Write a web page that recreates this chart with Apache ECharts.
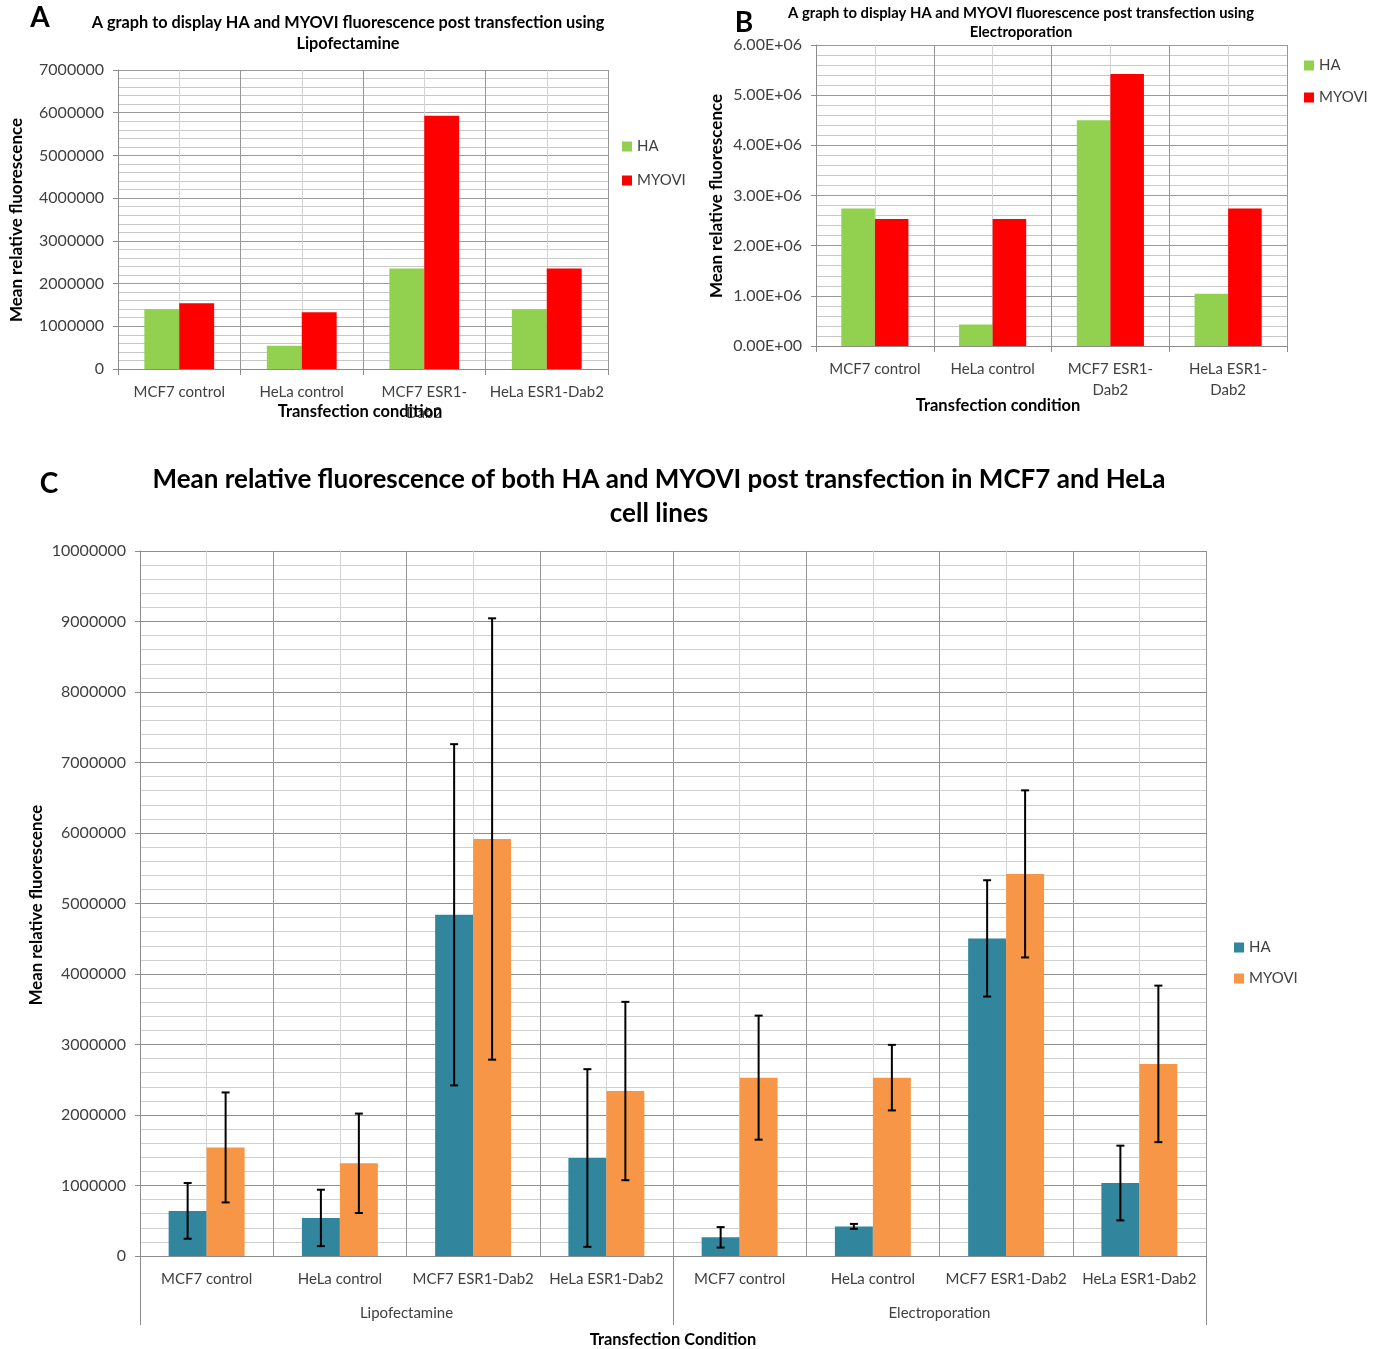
<!DOCTYPE html>
<html><head><meta charset="utf-8">
<script src="https://cdn.jsdelivr.net/npm/echarts@6/dist/echarts.min.js"></script>
<style>html,body{margin:0;padding:0;background:#fff}#c{width:1384px;height:1349px}</style>
</head><body><div id="c"></div>
<script>
// ---- Panel A (Lipofectamine) ----
const catsA = ['MCF7 control', 'HeLa control', 'MCF7 ESR1-\nDab2', 'HeLa ESR1-Dab2'];
const haA = [1400000, 545000, 2350000, 1400000];
const myoviA = [1540000, 1330000, 5930000, 2350000];
const yMaxA = 7000000;

// ---- Panel B (Electroporation) ----
const catsB = ['MCF7 control', 'HeLa control', 'MCF7 ESR1-\nDab2', 'HeLa ESR1-\nDab2'];
const haB = [2740000, 430000, 4500000, 1040000];
const myoviB = [2530000, 2530000, 5420000, 2740000];
const yMaxB = 6000000;

// ---- Panel C (both methods, with error bars) ----
const catsC = ['MCF7 control', 'HeLa control', 'MCF7 ESR1-Dab2', 'HeLa ESR1-Dab2',
               'MCF7 control', 'HeLa control', 'MCF7 ESR1-Dab2', 'HeLa ESR1-Dab2'];
const groupsC = ['Lipofectamine', 'Electroporation'];
const haC = [640000, 540000, 4840000, 1390000, 265000, 420000, 4505000, 1035000];
const haErrC = [395000, 400000, 2420000, 1260000, 145000, 35000, 825000, 530000];
const myoviC = [1540000, 1315000, 5915000, 2340000, 2530000, 2530000, 5420000, 2725000];
const myoviErrC = [780000, 705000, 3130000, 1265000, 880000, 465000, 1185000, 1110000];
const yMaxC = 10000000;

const FONT = 'Lato, "Open Sans", sans-serif';
const LBL = '#404040';
const GAP = 0.43;

function sci(v) {
  const p = v.toExponential(2).split('e');
  const s = p[1][0] === '-' ? '-' : '+';
  const d = p[1].replace(/[+-]/, '').padStart(2, '0');
  return p[0] + 'E' + s + d;
}
function plain(v) { return String(v); }

function centerAxis(g, n) {
  return { gridIndex: g, type: 'value', position: 'top', min: 0, max: 2 * n, interval: 1,
    axisLine: { show: false }, axisTick: { show: false }, axisLabel: { show: false },
    splitLine: { show: true, lineStyle: { color: '#d2d2d2', width: 1 } } };
}
function catAxis(g, data, tick, fs) {
  return { gridIndex: g, type: 'category', position: 'bottom', data: data,
    axisLine: { show: true, lineStyle: { color: '#8c8c8c' } },
    axisTick: { show: tick, length: 6, interval: 0, lineStyle: { color: '#8c8c8c' } },
    axisLabel: { interval: 0, margin: 13, fontSize: fs, lineHeight: 21, color: LBL, fontFamily: FONT },
    splitLine: { show: true, interval: 0, lineStyle: { color: '#969696' } } };
}
function valAxis(g, max, fs, fmt, minorColor, majorColor) {
  return { gridIndex: g, type: 'value', min: 0, max: max, interval: 1000000,
    axisLine: { show: true, lineStyle: { color: '#8c8c8c' } },
    axisTick: { show: true, length: 5, lineStyle: { color: '#8c8c8c' } },
    axisLabel: { margin: 14, fontSize: fs, color: LBL, fontFamily: FONT, formatter: fmt },
    splitLine: { show: true, lineStyle: { color: majorColor } },
    minorTick: { show: false, splitNumber: 5 },
    minorSplitLine: { show: true, lineStyle: { color: minorColor } } };
}

function errRender(sign) {
  return function (params, api) {
    const i = api.value(0), v = api.value(1), e = api.value(2);
    const band = api.size([1, 0])[0];
    const bw = band * (1 - GAP) / 2;
    const x = api.coord([i, v])[0] + sign * bw / 2;
    const yt = api.coord([i, v + e])[1];
    const yb = api.coord([i, v - e])[1];
    const st = { stroke: '#000', lineWidth: 2 };
    const c = 4;
    return { type: 'group', children: [
      { type: 'line', shape: { x1: x, y1: yt, x2: x, y2: yb }, style: st },
      { type: 'line', shape: { x1: x - c, y1: yt, x2: x + c, y2: yt }, style: st },
      { type: 'line', shape: { x1: x - c, y1: yb, x2: x + c, y2: yb }, style: st }
    ] };
  };
}

function txt(x, y, text, size, weight, rot, color) {
  return { type: 'text', x: x, y: y, rotation: rot || 0, z: 100,
    style: { text: text, fill: color || '#000', fontSize: size, fontWeight: weight, fontFamily: FONT,
      textAlign: 'center', textVerticalAlign: 'middle', align: 'center', verticalAlign: 'middle' } };
}

const legendText = { fontSize: 15, color: LBL, fontFamily: FONT };
function legend(left, top, gap, c1, c2) {
  return { left: left, top: top, orient: 'vertical', icon: 'rect', itemWidth: 10, itemHeight: 10,
    itemGap: gap, selectedMode: false, textStyle: legendText, padding: 0,
    data: [{ name: 'HA', itemStyle: { color: c1 } }, { name: 'MYOVI', itemStyle: { color: c2 } }] };
}

const option = {
  backgroundColor: '#fff',
  animation: false,
  grid: [
    { left: 118, top: 70, width: 490, height: 299 },
    { left: 816, top: 45, width: 471, height: 301 },
    { left: 140, top: 551, width: 1066, height: 705 }
  ],
  xAxis: [
    centerAxis(0, 4),
    catAxis(0, catsA, true, 15),
    centerAxis(1, 4),
    catAxis(1, catsB, true, 15),
    centerAxis(2, 8),
    catAxis(2, catsC, false, 15),
    { gridIndex: 2, type: 'category', position: 'bottom', data: groupsC,
      axisLine: { show: false },
      axisTick: { show: true, length: 69, interval: 0, lineStyle: { color: '#8c8c8c' } },
      axisLabel: { interval: 0, margin: 47, fontSize: 15, lineHeight: 20, color: LBL, fontFamily: FONT },
      splitLine: { show: false } }
  ],
  yAxis: [
    valAxis(0, yMaxA, 16, plain, '#c8c8c8', '#9a9a9a'),
    valAxis(1, yMaxB, 16, sci, '#c8c8c8', '#9a9a9a'),
    valAxis(2, yMaxC, 16, plain, '#d0d0d0', '#8e8e8e')
  ],
  legend: [
    legend(622, 139, 19, '#92D050', '#FF0000'),
    legend(1304, 58, 17, '#92D050', '#FF0000'),
    legend(1234, 940, 16, '#31859C', '#F79646')
  ],
  series: [
    { name: 'HA', type: 'bar', xAxisIndex: 1, yAxisIndex: 0, data: haA, barGap: '0%', barCategoryGap: '43%', itemStyle: { color: '#92D050' } },
    { name: 'MYOVI', type: 'bar', xAxisIndex: 1, yAxisIndex: 0, data: myoviA, barGap: '0%', barCategoryGap: '43%', itemStyle: { color: '#FF0000' } },
    { name: 'HA', type: 'bar', xAxisIndex: 3, yAxisIndex: 1, data: haB, barGap: '0%', barCategoryGap: '43%', itemStyle: { color: '#92D050' } },
    { name: 'MYOVI', type: 'bar', xAxisIndex: 3, yAxisIndex: 1, data: myoviB, barGap: '0%', barCategoryGap: '43%', itemStyle: { color: '#FF0000' } },
    { name: 'HA', type: 'bar', xAxisIndex: 5, yAxisIndex: 2, data: haC, barGap: '0%', barCategoryGap: '43%', itemStyle: { color: '#31859C' } },
    { name: 'MYOVI', type: 'bar', xAxisIndex: 5, yAxisIndex: 2, data: myoviC, barGap: '0%', barCategoryGap: '43%', itemStyle: { color: '#F79646' } },
    { name: 'HA err', type: 'custom', xAxisIndex: 5, yAxisIndex: 2, z: 10, renderItem: errRender(-1),
      data: haC.map(function (v, i) { return [i, v, haErrC[i]]; }) },
    { name: 'MYOVI err', type: 'custom', xAxisIndex: 5, yAxisIndex: 2, z: 10, renderItem: errRender(1),
      data: myoviC.map(function (v, i) { return [i, v, myoviErrC[i]]; }) }
  ],
  graphic: [
    txt(40, 18, 'A', 28, 'bold'),
    txt(348, 23, 'A graph to display HA and MYOVI fluorescence post transfection using', 16.3, 'bold'),
    txt(348, 44, 'Lipofectamine', 16.3, 'bold'),
    txt(17, 220, 'Mean relative fluorescence', 17, 'bold', Math.PI / 2),
    txt(360, 412, 'Transfection condition', 16.5, 'bold'),
    txt(744, 23, 'B', 28, 'bold'),
    txt(1021, 13, 'A graph to display HA and MYOVI fluorescence post transfection using', 14.8, 'bold'),
    txt(1021, 32, 'Electroporation', 14.8, 'bold'),
    txt(717, 196, 'Mean relative fluorescence', 17, 'bold', Math.PI / 2),
    txt(998, 406, 'Transfection condition', 16.5, 'bold'),
    txt(49, 484, 'C', 28, 'bold'),
    txt(659, 480, 'Mean relative fluorescence of both HA and MYOVI post transfection in MCF7 and HeLa', 26, 'bold'),
    txt(659, 514, 'cell lines', 26, 'bold'),
    txt(37, 905, 'Mean relative fluorescence', 16.7, 'bold', Math.PI / 2),
    txt(673, 1340, 'Transfection Condition', 16.4, 'bold')
  ]
};

const chart = echarts.init(document.getElementById('c'), null, { renderer: 'canvas' });
chart.setOption(option);
</script>
</body></html>
